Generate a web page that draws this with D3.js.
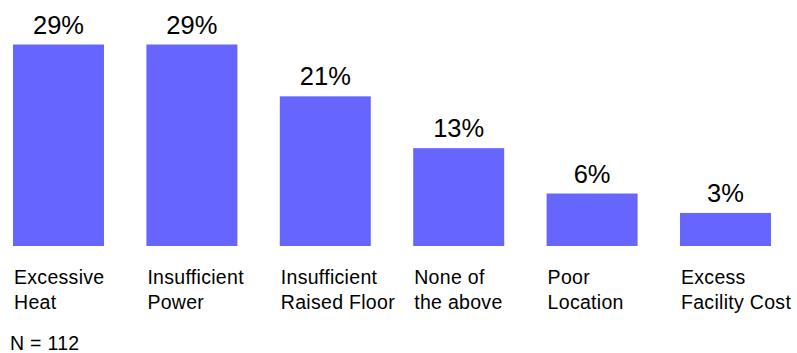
<!DOCTYPE html>
<html>
<head>
<meta charset="utf-8">
<script src="https://cdn.jsdelivr.net/npm/d3@7"></script>
<style>
  html, body { margin: 0; padding: 0; background: #ffffff; }
  svg { display: block; }
  text { font-family: "Liberation Sans", Arial, sans-serif; fill: #000; }
</style>
</head>
<body>
<svg id="chart" width="797" height="353"></svg>
<script>
// Reasons cited, share of respondents
const categories = [
  "Excessive\nHeat",
  "Insufficient\nPower",
  "Insufficient\nRaised Floor",
  "None of\nthe above",
  "Poor\nLocation",
  "Excess\nFacility Cost"
];
const values = [29, 29, 21, 13, 6, 3];
const valueLabels = ["29%", "29%", "21%", "13%", "6%", "3%"];
const sampleNote = "N = 112";

const svg = d3.select("#chart");

const x = d3.scaleBand()
  .domain(categories)
  .range([13, 771])
  .paddingInner(0.318)
  .paddingOuter(0);

// Baseline sits a little below zero so small bars keep a visible stub
const y = d3.scaleLinear()
  .domain([-2.1, 29])
  .range([246, 44.5]);

const data = categories.map((c, i) => ({ cat: c, value: values[i], label: valueLabels[i] }));

svg.append("g")
  .selectAll("rect")
  .data(data)
  .join("rect")
  .attr("x", d => x(d.cat))
  .attr("y", d => y(d.value))
  .attr("width", x.bandwidth())
  .attr("height", d => y.range()[0] - y(d.value))
  .attr("fill", "#6666ff");

svg.append("g")
  .selectAll("text")
  .data(data)
  .join("text")
  .attr("x", d => x(d.cat) + x.bandwidth() / 2)
  .attr("y", d => y(d.value) - 11)
  .attr("text-anchor", "middle")
  .style("font-size", "25.5px")
  .text(d => d.label);

const catLabels = svg.append("g")
  .selectAll("text")
  .data(data)
  .join("text")
  .attr("y", 284)
  .style("font-size", "19.5px")
  .style("letter-spacing", "0.3px");

catLabels.selectAll("tspan")
  .data(d => d.cat.split("\n").map(line => ({ line, x0: x(d.cat) + 1 })))
  .join("tspan")
  .attr("x", t => t.x0)
  .attr("dy", (t, i) => i === 0 ? 0 : 25)
  .text(t => t.line);

svg.append("text")
  .attr("x", 10)
  .attr("y", 350)
  .style("font-size", "19.5px")
  .style("letter-spacing", "0.3px")
  .text(sampleNote);
</script>
</body>
</html>
